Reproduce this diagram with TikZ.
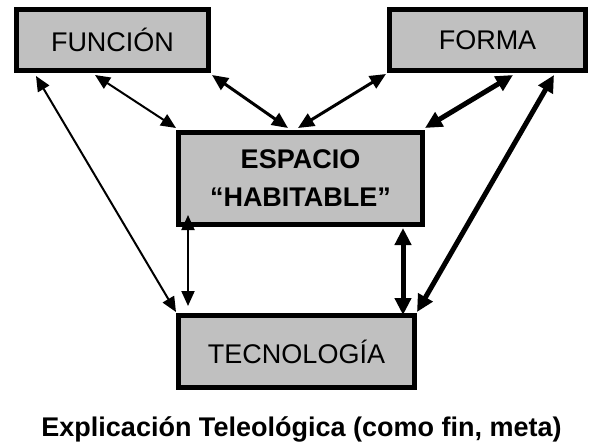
\documentclass[tikz,border=0pt]{standalone}
\usepackage{fontspec}
\setmainfont{Liberation Sans}
\usetikzlibrary{arrows.meta}
\tikzset{
  box/.style={draw=black, line width=5pt, fill={rgb,255:red,192;green,192;blue,192}, inner sep=0pt, font=\fontsize{27}{38}\selectfont, align=center},
  thinarr/.style={line width=2pt, {Triangle[length=15pt,width=13pt]}-{Triangle[length=15pt,width=13pt]}},
  medarr/.style={line width=3pt, {Triangle[length=16pt,width=14pt]}-{Triangle[length=16pt,width=14pt]}},
  thickarr/.style={line width=5pt, {Triangle[length=17pt,width=16pt]}-{Triangle[length=17pt,width=16pt]}},
}
\begin{document}
\begin{tikzpicture}[x=1pt,y=-1pt]
\useasboundingbox (0,0) rectangle (591,444);
\node[box, minimum width=192pt, minimum height=61pt] (fun) at (112.5,40) {FUNCIÓN};
\node[box, minimum width=196pt, minimum height=61pt] (form) at (487.5,40) {FORMA};
\node[box, minimum width=244pt, minimum height=92pt, font=\fontsize{27}{38}\selectfont\bfseries] (esp) at (300.5,178.5) {ESPACIO\\“HABITABLE”};
\node[box, minimum width=236pt, minimum height=72pt] (tec) at (296.5,351.5) {TECNOLOGÍA};
\node[font=\fontsize{27}{30}\selectfont\bfseries, anchor=base, inner sep=0pt] (cap) at (301.5,436) {Explicación Teleológica (como fin, meta)};
% connectors
\draw[thinarr] ([xshift=81pt,yshift=-2pt]fun.south west) -- ([yshift=2pt]esp.north west);
\draw[medarr] ([xshift=1pt,yshift=-2pt]fun.south east) -- ([xshift=112pt,yshift=2pt]esp.north west);
\draw[medarr] ([xshift=-1pt,yshift=-1pt]form.south west) -- ([xshift=122pt,yshift=2pt]esp.north west);
\draw[thickarr] ([xshift=126pt,yshift=-2pt]form.south west) -- ([yshift=2pt]esp.north east);
\draw[thinarr] ([xshift=22pt,yshift=-3pt]fun.south west) -- ([yshift=1pt]tec.north west);
\draw[thickarr] ([xshift=167pt,yshift=-2pt]form.south west) -- ([yshift=1pt]tec.north east);
\draw[thinarr] ([xshift=12pt,yshift=12pt]esp.south west) -- ([xshift=12pt,yshift=7pt]tec.north west);
\draw[thickarr] ([xshift=-22pt,yshift=-1pt]esp.south east) -- ([xshift=-14pt,yshift=-2pt]tec.north east);
\end{tikzpicture}
\end{document}
